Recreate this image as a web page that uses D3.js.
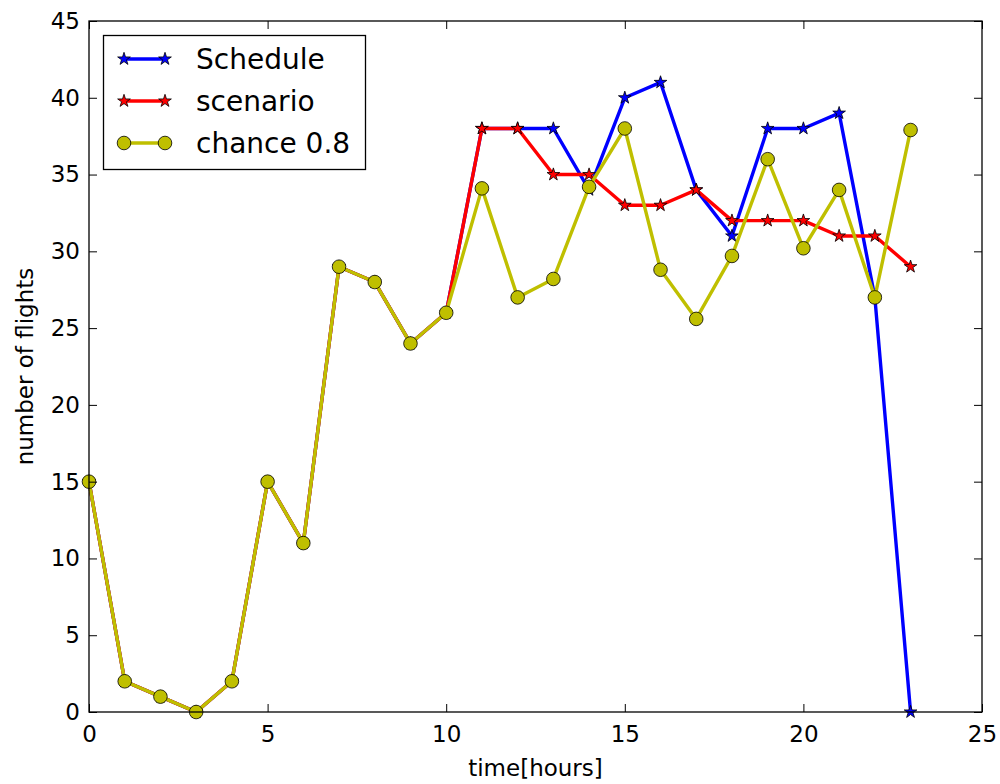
<!DOCTYPE html>
<html>
<head>
<meta charset="utf-8">
<script src="https://cdn.jsdelivr.net/npm/d3@7"></script>
<style>
  body { margin: 0; background: #fff; }
  svg text { font-family: "DejaVu Sans", sans-serif; fill: #000; }
</style>
</head>
<body>
<svg id="chart" width="1000" height="784"></svg>
<script>
// flights per hour of the day
var hours = [0, 1, 2, 3, 4, 5, 6, 7, 8, 9, 10, 11, 12, 13, 14, 15, 16, 17, 18, 19, 20, 21, 22, 23];
var schedule = [15, 2, 1, 0, 2, 15, 11, 29, 28, 24, 26, 38, 38, 38, 34, 40, 41, 34, 31, 38, 38, 39, 27, 0];
var scenario = [15, 2, 1, 0, 2, 15, 11, 29, 28, 24, 26, 38, 38, 35, 35, 33, 33, 34, 32, 32, 32, 31, 31, 29];
var chance = [15, 2, 1, 0, 2, 15, 11, 29, 28, 24, 26, 34.1, 27, 28.2, 34.2, 38, 28.8, 25.6, 29.7, 36, 30.2, 34, 27, 37.9];
var xTicks = [0, 5, 10, 15, 20, 25];
var yTicks = [0, 5, 10, 15, 20, 25, 30, 35, 40, 45];

var series = [
    { name: "Schedule", values: schedule, color: "#0000ff", marker: "star" },
    { name: "scenario", values: scenario, color: "#ff0000", marker: "star" },
    { name: "chance 0.8", values: chance, color: "#bfbf00", marker: "circle" }
];

var plotLeft = 89, plotRight = 982, plotTop = 21, plotBottom = 712;
var svg = d3.select("#chart");

var x = d3.scaleLinear().domain([0, 25]).range([plotLeft, plotRight]);
var y = d3.scaleLinear().domain([0, 45]).range([plotBottom, plotTop]);

var star = d3.symbol().type(d3.symbolStar).size(50);

function drawMarker(g, shape, color) {
    if (shape == "star") {
        g.append("path").attr("d", star)
            .attr("fill", color).attr("stroke", "#000").attr("stroke-width", 0.8);
    } else {
        g.append("circle").attr("r", 6.8)
            .attr("fill", color).attr("stroke", "#000").attr("stroke-width", 0.8);
    }
}

var plot = svg.append("g");
var line = d3.line()
    .x(function (d, i) { return x(hours[i]) })
    .y(function (d) { return y(d) });

series.forEach(function (s) {
    plot.append("path")
        .datum(s.values)
        .attr("d", line)
        .attr("fill", "none")
        .attr("stroke", s.color)
        .attr("stroke-width", 3.4)
        .attr("stroke-linejoin", "round");
    plot.selectAll(null)
        .data(s.values)
        .enter()
        .append("g")
        .attr("transform", function (d, i) { return "translate(" + x(hours[i]) + "," + y(d) + ")" })
        .each(function () { drawMarker(d3.select(this), s.marker, s.color) });
});

// axes with ticks pointing inward on all four sides
svg.append("g")
    .attr("transform", "translate(0," + plotBottom + ")")
    .call(d3.axisBottom(x).tickValues(xTicks).tickSizeInner(-8).tickSizeOuter(0).tickPadding(14));
svg.append("g")
    .attr("transform", "translate(0," + plotTop + ")")
    .call(d3.axisTop(x).tickValues(xTicks).tickSizeInner(-8).tickSizeOuter(0).tickFormat(""));
svg.append("g")
    .attr("transform", "translate(" + plotLeft + ",0)")
    .call(d3.axisLeft(y).tickValues(yTicks).tickSizeInner(-8).tickSizeOuter(0).tickPadding(9));
svg.append("g")
    .attr("transform", "translate(" + plotRight + ",0)")
    .call(d3.axisRight(y).tickValues(yTicks).tickSizeInner(-8).tickSizeOuter(0).tickFormat(""));

svg.selectAll(".tick text").attr("font-size", 23).attr("font-family", "DejaVu Sans");
svg.selectAll(".tick line").attr("stroke", "#000").attr("stroke-width", 1);
svg.selectAll(".domain").remove();

svg.append("rect")
    .attr("x", plotLeft).attr("y", plotTop)
    .attr("width", plotRight - plotLeft).attr("height", plotBottom - plotTop)
    .attr("fill", "none").attr("stroke", "#000").attr("stroke-width", 1.3);

svg.append("text")
    .attr("x", (plotLeft + plotRight) / 2).attr("y", 776)
    .attr("text-anchor", "middle").attr("font-size", 23)
    .text("time[hours]");
svg.append("text")
    .attr("transform", "translate(33," + ((plotTop + plotBottom) / 2) + ") rotate(-90)")
    .attr("text-anchor", "middle").attr("font-size", 23)
    .text("number of flights");

// legend
var legend = svg.append("g");
legend.append("rect")
    .attr("x", 103.5).attr("y", 35.5).attr("width", 262).attr("height", 134)
    .attr("fill", "#fff").attr("stroke", "#000").attr("stroke-width", 1.3);
series.forEach(function (s, i) {
    var ly = 59 + i * 42;
    legend.append("line")
        .attr("x1", 124).attr("x2", 165).attr("y1", ly).attr("y2", ly)
        .attr("stroke", s.color).attr("stroke-width", 3.4);
    [124, 165].forEach(function (lx) {
        var m = legend.append("g").attr("transform", "translate(" + lx + "," + ly + ")");
        drawMarker(m, s.marker, s.color);
    });
    legend.append("text")
        .attr("x", 196).attr("y", ly + 10)
        .attr("font-size", 28)
        .text(s.name);
});
</script>
</body>
</html>
